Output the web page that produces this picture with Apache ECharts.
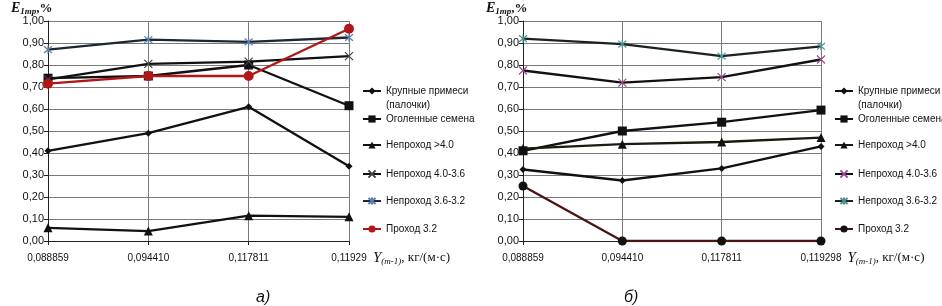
<!DOCTYPE html>
<html><head><meta charset="utf-8">
<script src="https://cdn.jsdelivr.net/npm/echarts@6/dist/echarts.min.js"></script>
<style>html,body{margin:0;padding:0;background:#fff}#c{width:942px;height:306px}</style>
</head><body><div id="c"></div>
<script>
// ---- data ----
const categoriesA = ['0,088859', '0,094410', '0,117811', '0,11929'];
const categoriesB = ['0,088859', '0,094410', '0,117811', '0,119298'];
const seriesNames = ['Крупные примеси (палочки)', 'Оголенные семена', 'Непроход >4.0', 'Непроход 4.0-3.6', 'Непроход 3.6-3.2', 'Проход 3.2'];
const yTicks = [0, 0.1, 0.2, 0.3, 0.4, 0.5, 0.6, 0.7, 0.8, 0.9, 1.0];

const a_large   = [0.41, 0.49, 0.61, 0.34];
const a_bare    = [0.74, 0.75, 0.80, 0.615];
const a_gt40    = [0.06, 0.045, 0.115, 0.11];
const a_40_36   = [0.735, 0.805, 0.815, 0.84];
const a_36_32   = [0.87, 0.915, 0.905, 0.925];
const a_pass32  = [0.715, 0.75, 0.75, 0.965];

const b_large   = [0.325, 0.275, 0.33, 0.43];
const b_bare    = [0.41, 0.50, 0.54, 0.595];
const b_gt40    = [0.42, 0.44, 0.45, 0.47];
const b_40_36   = [0.775, 0.72, 0.745, 0.825];
const b_36_32   = [0.92, 0.895, 0.84, 0.885];
const b_pass32  = [0.25, 0, 0, 0];

const captions = ['а)', 'б)'];

// ---- styles ----
const FONT = "'Liberation Sans', 'DejaVu Sans', sans-serif";
const SERIF = "'Liberation Serif', 'DejaVu Serif', serif";
const X_PATH = 'path://M0,0L10,10M10,0L0,10';
const AST_PATH = 'path://M0,0L10,10M10,0L0,10M5,-1L5,11';

const gridsPos = [
  {left: 48, top: 21, width: 301, height: 220},
  {left: 523, top: 21, width: 298, height: 220}
];

function fmt(v){ return v.toFixed(2).replace('.', ','); }

const xAxes = [categoriesA, categoriesB].map((cats, i) => ({
  type: 'category', gridIndex: i, data: cats, boundaryGap: false,
  axisLine: {lineStyle: {color: '#222', width: 1}},
  axisTick: {show: true, length: 4, lineStyle: {color: '#222'}},
  axisLabel: {color: '#111', fontFamily: FONT, fontSize: 10, margin: 12, showMaxLabel: true, showMinLabel: true, interval: 0},
  splitLine: {show: true, lineStyle: {color: '#7a7a7a', width: 1}},
  name: '{v|Y}{s|(m-1)}{r|, кг/(м·с)}',
  nameLocation: 'end', nameGap: 24,
  nameTextStyle: {align: 'left', verticalAlign: 'top', padding: [9, 0, 0, 0],
    rich: {
      v: {fontFamily: SERIF, fontStyle: 'italic', fontSize: 15, color: '#111'},
      s: {fontFamily: SERIF, fontStyle: 'italic', fontSize: 9, color: '#111', padding: [7, 0, 0, 0]},
      r: {fontFamily: SERIF, fontSize: 13, color: '#111'}
    }}
}));

const yAxes = [0, 1].map(i => ({
  type: 'value', gridIndex: i, min: 0, max: 1, interval: 0.1,
  axisLine: {show: true, lineStyle: {color: '#222'}},
  axisTick: {show: true, length: 4, lineStyle: {color: '#222'}},
  axisLabel: {formatter: fmt, color: '#111', fontFamily: FONT, fontSize: 11, margin: 4},
  splitLine: {show: true, lineStyle: {color: '#7a7a7a', width: 1}}
}));

const styleA = [
  {symbol: 'diamond', size: 7, line: '#111', fill: '#111'},
  {symbol: 'rect', size: 9, line: '#111', fill: '#111'},
  {symbol: 'triangle', size: 9, line: '#111', fill: '#111'},
  {symbol: X_PATH, size: 8, line: '#111', stroke: '#444'},
  {symbol: AST_PATH, size: 8, line: '#1c2733', stroke: '#5b7fae'},
  {symbol: 'circle', size: 10, line: '#b01818', fill: '#b01818'}
];
const styleB = [
  {symbol: 'diamond', size: 7, line: '#111', fill: '#111'},
  {symbol: 'rect', size: 9, line: '#111', fill: '#111'},
  {symbol: 'triangle', size: 9, line: '#1a1a10', fill: '#111'},
  {symbol: X_PATH, size: 8, line: '#111', stroke: '#a04890'},
  {symbol: AST_PATH, size: 8, line: '#1a2222', stroke: '#4e9292'},
  {symbol: 'circle', size: 9, line: '#4a1414', fill: '#111'}
];

const dataA = [a_large, a_bare, a_gt40, a_40_36, a_36_32, a_pass32];
const dataB = [b_large, b_bare, b_gt40, b_40_36, b_36_32, b_pass32];

function makeSeries(dataSet, styles, gi, suffix) {
  return dataSet.map((d, k) => {
    const st = styles[k];
    const item = st.stroke
      ? {color: 'rgba(0,0,0,0)', borderColor: st.stroke, borderWidth: 1.2}
      : {color: st.fill};
    return {
      name: seriesNames[k] + suffix, type: 'line', xAxisIndex: gi, yAxisIndex: gi,
      data: d, symbol: st.symbol, symbolSize: st.size, showAllSymbol: true,
      lineStyle: {color: st.line, width: 2.3}, itemStyle: item,
      emphasis: {disabled: true}, animation: false, z: 3 + k
    };
  });
}

const series = makeSeries(dataA, styleA, 0, '').concat(makeSeries(dataB, styleB, 1, '\u200B'));

const legendLeft = [362, 834];
const legendY = [91, 119, 145, 174, 201, 229];
const legends = [];
const extraTexts = [];
[0, 1].forEach(gi => {
  seriesNames.forEach((nm, k) => {
    const first = k === 0;
    legends.push({
      left: legendLeft[gi], top: legendY[k] - 7, orient: 'vertical', padding: 0,
      itemWidth: 18, itemHeight: 9, itemGap: 0, selectedMode: false,
      data: [nm + (gi ? '\u200B' : '')],
      formatter: first ? 'Крупные примеси' : undefined,
      textStyle: {fontFamily: FONT, fontSize: 10, color: '#111', lineHeight: 14}
    });
  });
  extraTexts.push({type: 'text', left: legendLeft[gi] + 24, top: legendY[0] + 9,
    style: {text: '(палочки)', font: "10px " + FONT, fill: '#111'}});
});

const chart = echarts.init(document.getElementById('c'), null, {renderer: 'canvas'});
const titleRich = {
  e: {fontFamily: SERIF, fontStyle: 'italic', fontSize: 14, color: '#111'},
  s: {fontFamily: SERIF, fontStyle: 'italic', fontSize: 9, color: '#111', padding: [6, 0, 0, 0]},
  p: {fontFamily: SERIF, fontSize: 13, color: '#111'}
};
chart.setOption({
  backgroundColor: '#fff',
  animation: false,
  title: [
    {left: 11, top: 1, padding: 0, text: '{e|E}{s|1тр}{p|,%}', textStyle: {rich: titleRich}},
    {left: 486, top: 1, padding: 0, text: '{e|E}{s|1тр}{p|,%}', textStyle: {rich: titleRich}}
  ],
  grid: gridsPos,
  xAxis: xAxes,
  yAxis: yAxes,
  legend: legends,
  series: series,
  graphic: extraTexts.concat([
    {type: 'text', left: 256, top: 290, style: {text: captions[0], font: "italic 16px " + FONT, fill: '#111'}},
    {type: 'text', left: 624, top: 290, style: {text: captions[1], font: "italic 16px " + FONT, fill: '#111'}}
  ])
});
</script></body></html>
